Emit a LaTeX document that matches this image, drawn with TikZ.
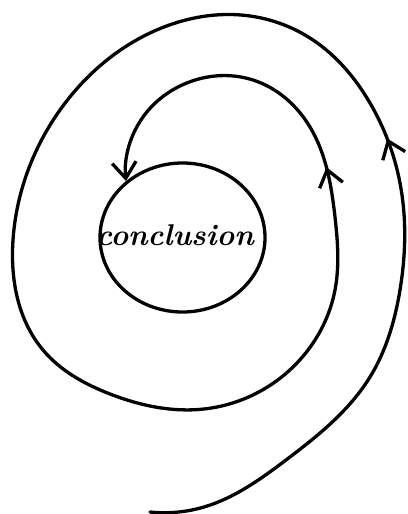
\documentclass[tikz,border=0pt]{standalone}
\usepackage{tikz}
\usetikzlibrary{arrows.meta,shapes.geometric,decorations.markings,hobby}

\begin{document}
\begin{tikzpicture}[
  x=1pt,y=-1pt,
  >={Straight Barb[length=16pt,width=24pt]},
  spiral/.style={line width=3.3pt,line cap=round,line join=round,use Hobby shortcut},
  loopbox/.style={draw,ellipse,line width=3.3pt,minimum width=165pt,minimum height=149pt,inner sep=0pt},
  word/.style={inner sep=0pt,anchor=base,font=\fontsize{30}{34}\selectfont\bfseries\itshape}
]
\useasboundingbox (0,0) rectangle (407,514);
\node[loopbox] (loop) at (182.5,237.5) {};
\node[word] (concl) at (175,245) {conclusion};
\draw[spiral,->,postaction={decorate},
  decoration={markings,
    mark=at position 515pt with {\arrow{>}},
    mark=at position 1678pt with {\arrow{>}}}]
  (150,512) .. (204,507) .. (286,460) .. (370,377)
  .. (400,290) .. (400,183) .. (370,103) .. (313,40)
  .. (250,16) .. (150,33) .. (60,110) .. (13,240)
  .. (43,350) .. (110,394) .. (204,409) .. (296,364)
  .. (335,290) .. (335,217) .. (310,127) .. (253,80)
  .. (180,86) .. (143,117) .. (loop.135);
\end{tikzpicture}
\end{document}
